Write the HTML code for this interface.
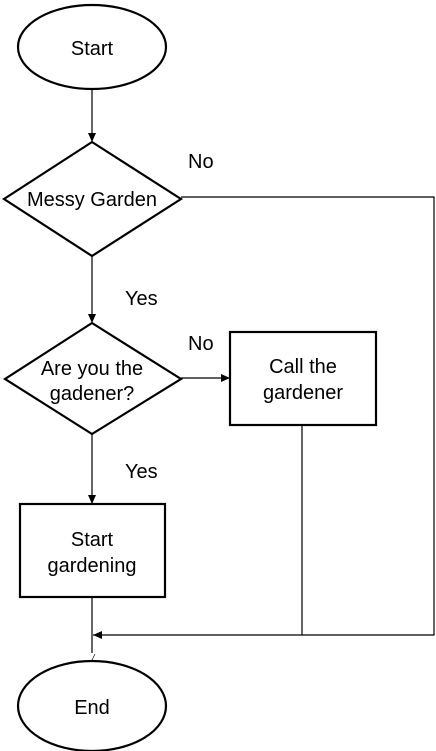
<!DOCTYPE html>
<html><head><style>
html,body{margin:0;padding:0;background:#fff;}
svg{display:block;}
text{font-family:"Liberation Sans",Arial,sans-serif;font-size:20px;fill:#000;}
</style></head><body>
<svg width="436" height="751" viewBox="0 0 436 751" xmlns="http://www.w3.org/2000/svg">
<defs><marker id="a" markerWidth="10" markerHeight="10" refX="9" refY="5" orient="auto" markerUnits="userSpaceOnUse"><path d="M0,1 L9,5 L0,9 Z" fill="#000"/></marker></defs>
<g fill="none" stroke="#000" stroke-width="2.2">
<ellipse cx="92" cy="47" rx="74" ry="42"/>
<polygon points="92,142 181,199 92,256 4,199"/>
<polygon points="92,323 181,379 92,434 5,379"/>
<rect x="230" y="332" width="146" height="93"/>
<rect x="20" y="504" width="145" height="93"/>
<ellipse cx="92" cy="706" rx="74" ry="45"/>
</g>
<g fill="none" stroke="#000" stroke-width="1.2">
<line x1="92" y1="89" x2="92" y2="142" marker-end="url(#a)"/>
<polyline points="181,197 434,197 434,635 93,635" marker-end="url(#a)"/>
<line x1="92" y1="256" x2="92" y2="323" marker-end="url(#a)"/>
<line x1="181" y1="378" x2="230" y2="378" marker-end="url(#a)"/>
<line x1="302" y1="425" x2="302" y2="635"/>
<line x1="92" y1="434" x2="92" y2="504" marker-end="url(#a)"/>
<line x1="92" y1="597" x2="92" y2="653"/>
<line x1="95" y1="654" x2="92" y2="660" stroke-width="0.6"/>
</g>
<g text-anchor="middle">
<text x="92" y="55">Start</text>
<text x="92" y="206">Messy Garden</text>
<text x="92" y="375">Are you the</text>
<text x="92" y="400">gadener?</text>
<text x="303" y="373">Call the</text>
<text x="303" y="399">gardener</text>
<text x="92" y="546">Start</text>
<text x="92" y="572">gardening</text>
<text x="92" y="714">End</text>
</g>
<text x="188" y="168">No</text>
<text x="125" y="305">Yes</text>
<text x="188" y="350">No</text>
<text x="125" y="478">Yes</text>
</svg>
</body></html>
